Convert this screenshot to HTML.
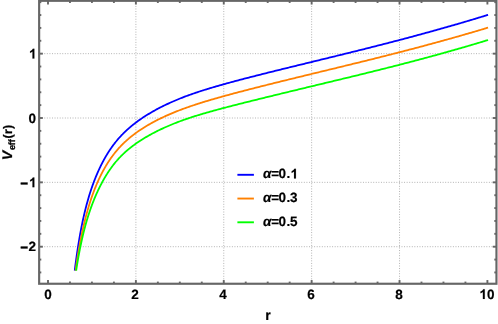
<!DOCTYPE html>
<html><head><meta charset="utf-8"><title>plot</title>
<style>
html,body{margin:0;padding:0;background:#fff;}
body{width:498px;height:324px;position:relative;overflow:hidden;font-family:"Liberation Sans",sans-serif;font-weight:bold;color:#000;}
.t{position:absolute;white-space:nowrap;line-height:1;font-size:13.5px;will-change:transform;text-rendering:geometricPrecision;-webkit-text-stroke:0.2px #000;}
.xt{top:287.5px;width:40px;text-align:center;}
.yt{width:30px;text-align:right;left:6.3px;}
.m{position:relative;top:1.15px;margin-right:0.45px;-webkit-text-stroke:0.3px #000;}
.lg{left:262.9px;letter-spacing:-0.12px;}
.lg span{margin-left:-0.55px;}
.lg .p{margin-left:0.55px;}
.lg .o{margin-left:-0.2px;}
i{font-style:italic;}
.o{color:transparent;-webkit-text-stroke:0 transparent;}
</style></head><body>
<svg width="498" height="324" viewBox="0 0 498 324" style="position:absolute;left:0;top:0">
<rect x="0" y="0" width="498" height="324" fill="#fff"/>
<line x1="135.88" y1="0.8" x2="135.88" y2="283.75" stroke="rgba(105,105,105,0.52)" stroke-width="1" stroke-dasharray="0.95 1.62"/>
<line x1="223.76" y1="0.8" x2="223.76" y2="283.75" stroke="rgba(105,105,105,0.52)" stroke-width="1" stroke-dasharray="0.95 1.62"/>
<line x1="311.64" y1="0.8" x2="311.64" y2="283.75" stroke="rgba(105,105,105,0.52)" stroke-width="1" stroke-dasharray="0.95 1.62"/>
<line x1="399.52" y1="0.8" x2="399.52" y2="283.75" stroke="rgba(105,105,105,0.52)" stroke-width="1" stroke-dasharray="0.95 1.62"/>
<line x1="39.15" y1="246.70" x2="496.45" y2="246.70" stroke="rgba(105,105,105,0.52)" stroke-width="1" stroke-dasharray="0.95 1.62"/>
<line x1="39.15" y1="182.35" x2="496.45" y2="182.35" stroke="rgba(105,105,105,0.52)" stroke-width="1" stroke-dasharray="0.95 1.62"/>
<line x1="39.15" y1="118.00" x2="496.45" y2="118.00" stroke="rgba(105,105,105,0.52)" stroke-width="1" stroke-dasharray="0.95 1.62"/>
<line x1="39.15" y1="53.65" x2="496.45" y2="53.65" stroke="rgba(105,105,105,0.52)" stroke-width="1" stroke-dasharray="0.95 1.62"/>
<polyline points="74.75,270.57 74.94,269.02 75.15,267.31 75.36,265.64 75.58,263.99 75.79,262.37 76.00,260.77 76.22,259.20 76.43,257.65 76.64,256.13 76.85,254.63 77.07,253.16 77.28,251.70 77.49,250.27 77.71,248.86 77.92,247.48 78.13,246.11 78.35,244.76 78.56,243.44 78.77,242.13 78.99,240.84 79.20,239.57 79.41,238.32 79.63,237.09 79.84,235.87 80.05,234.68 80.26,233.50 80.48,232.33 80.69,231.18 80.90,230.05 81.12,228.93 81.33,227.83 81.54,226.75 81.76,225.68 81.97,224.62 82.18,223.58 82.40,222.55 82.61,221.53 82.82,220.53 83.03,219.54 83.25,218.56 83.46,217.60 83.67,216.65 83.89,215.71 84.10,214.78 84.31,213.87 84.53,212.96 84.74,212.07 84.95,211.19 85.17,210.32 85.38,209.46 85.59,208.61 85.80,207.77 86.02,206.94 86.23,206.12 86.44,205.31 86.66,204.51 86.87,203.72 87.08,202.93 87.30,202.16 87.51,201.40 87.72,200.64 87.94,199.89 88.15,199.15 88.36,198.42 88.57,197.70 88.79,196.98 89.00,196.27 89.21,195.57 89.43,194.88 89.64,194.20 89.85,193.52 90.07,192.84 90.28,192.18 90.49,191.52 90.71,190.87 90.92,190.22 91.13,189.58 91.34,188.95 91.56,188.32 91.77,187.70 91.98,187.09 92.20,186.48 92.41,185.87 92.62,185.28 92.84,184.68 93.05,184.09 93.26,183.51 93.48,182.93 93.69,182.36 93.90,181.79 94.11,181.23 94.33,180.68 94.54,180.12 94.75,179.57 94.97,179.03 95.18,178.49 95.39,177.96 95.61,177.43 95.82,176.91 96.03,176.39 96.25,175.87 96.46,175.36 96.67,174.85 96.89,174.35 97.10,173.85 97.31,173.35 97.52,172.86 97.74,172.37 97.95,171.89 98.16,171.41 98.38,170.94 98.59,170.46 98.80,170.00 99.02,169.53 99.23,169.07 99.44,168.61 99.66,168.16 99.87,167.71 100.08,167.26 100.29,166.82 100.51,166.38 100.72,165.95 100.93,165.51 101.15,165.08 101.36,164.66 101.57,164.23 101.79,163.81 102.00,163.40 102.21,162.98 102.43,162.57 102.64,162.16 102.85,161.76 103.06,161.36 103.28,160.96 103.49,160.56 103.70,160.17 103.92,159.78 104.13,159.39 104.34,159.01 104.56,158.63 104.77,158.25 104.98,157.87 105.20,157.50 105.41,157.13 105.62,156.76 105.83,156.39 106.05,156.03 106.26,155.67 106.47,155.31 106.69,154.96 106.90,154.60 107.11,154.25 107.33,153.90 107.54,153.56 107.75,153.21 107.97,152.87 108.18,152.54 108.39,152.20 108.60,151.86 108.82,151.53 109.03,151.20 109.24,150.88 109.46,150.55 109.67,150.23 109.88,149.91 110.10,149.59 110.31,149.27 110.52,148.96 110.74,148.65 110.95,148.34 111.16,148.03 111.38,147.73 111.59,147.42 111.80,147.12 112.01,146.82 112.23,146.52 112.44,146.23 112.65,145.94 112.87,145.64 113.08,145.35 113.29,145.07 113.51,144.78 113.72,144.50 113.93,144.22 114.15,143.94 114.36,143.66 114.57,143.38 114.78,143.11 115.00,142.83 115.21,142.56 115.42,142.30 115.64,142.03 115.85,141.76 116.06,141.50 116.28,141.24 116.49,140.98 116.70,140.72 116.92,140.46 117.13,140.21 117.34,139.95 117.55,139.70 117.77,139.45 117.98,139.20 118.19,138.95 118.41,138.71 118.62,138.46 118.83,138.22 119.05,137.98 119.26,137.74 119.47,137.50 119.69,137.26 119.90,137.03 120.11,136.80 120.32,136.56 120.54,136.33 120.75,136.10 120.96,135.87 121.18,135.65 121.39,135.42 121.60,135.20 121.82,134.97 122.03,134.75 122.24,134.53 122.46,134.31 122.67,134.09 122.88,133.88 123.09,133.66 123.31,133.45 123.52,133.23 123.73,133.02 123.95,132.81 124.16,132.60 124.37,132.39 124.59,132.19 124.80,131.98 125.01,131.78 125.23,131.57 125.44,131.37 125.65,131.17 125.86,130.97 126.08,130.77 126.29,130.57 126.50,130.37 126.72,130.18 126.93,129.98 127.14,129.79 127.36,129.59 127.57,129.40 127.78,129.21 128.00,129.02 128.21,128.83 128.42,128.64 128.64,128.45 128.85,128.27 129.06,128.08 129.27,127.90 129.49,127.71 129.70,127.53 129.91,127.35 130.13,127.17 130.34,126.99 130.55,126.81 130.77,126.63 130.98,126.45 131.19,126.27 131.41,126.10 131.62,125.92 131.83,125.75 132.04,125.58 132.26,125.40 132.47,125.23 132.68,125.06 132.90,124.89 133.11,124.72 133.32,124.55 133.54,124.38 133.75,124.21 133.96,124.05 134.18,123.88 134.39,123.72 134.60,123.55 134.81,123.39 135.03,123.22 135.24,123.06 135.45,122.90 135.67,122.74 135.88,122.58 137.06,121.70 138.24,120.84 139.41,120.00 140.59,119.18 141.77,118.37 142.95,117.58 144.12,116.81 145.30,116.05 146.48,115.31 147.66,114.57 148.84,113.86 150.01,113.15 151.19,112.46 152.37,111.78 153.55,111.11 154.73,110.45 155.90,109.80 157.08,109.16 158.26,108.54 159.44,107.92 160.61,107.31 161.79,106.72 162.97,106.13 164.15,105.55 165.33,104.98 166.50,104.42 167.68,103.86 168.86,103.32 170.04,102.78 171.22,102.25 172.39,101.73 173.57,101.21 174.75,100.71 175.93,100.21 177.10,99.72 178.28,99.23 179.46,98.75 180.64,98.28 181.82,97.82 182.99,97.36 184.17,96.91 185.35,96.46 186.53,96.02 187.71,95.59 188.88,95.16 190.06,94.73 191.24,94.32 192.42,93.90 193.59,93.49 194.77,93.09 195.95,92.69 197.13,92.30 198.31,91.91 199.48,91.52 200.66,91.14 201.84,90.76 203.02,90.38 204.20,90.01 205.37,89.64 206.55,89.28 207.73,88.92 208.91,88.56 210.08,88.20 211.26,87.85 212.44,87.50 213.62,87.15 214.80,86.81 215.97,86.47 217.15,86.12 218.33,85.79 219.51,85.45 220.69,85.12 221.86,84.78 223.04,84.45 224.22,84.12 225.40,83.80 226.57,83.47 227.75,83.15 228.93,82.82 230.11,82.50 231.29,82.18 232.46,81.86 233.64,81.55 234.82,81.23 236.00,80.91 237.18,80.60 238.35,80.29 239.53,79.98 240.71,79.67 241.89,79.36 243.06,79.05 244.24,78.74 245.42,78.43 246.60,78.13 247.78,77.82 248.95,77.52 250.13,77.21 251.31,76.91 252.49,76.61 253.67,76.31 254.84,76.01 256.02,75.71 257.20,75.41 258.38,75.11 259.55,74.81 260.73,74.51 261.91,74.22 263.09,73.92 264.27,73.62 265.44,73.33 266.62,73.03 267.80,72.74 268.98,72.45 270.16,72.15 271.33,71.86 272.51,71.57 273.69,71.27 274.87,70.98 276.04,70.69 277.22,70.40 278.40,70.11 279.58,69.82 280.76,69.53 281.93,69.24 283.11,68.95 284.29,68.66 285.47,68.37 286.65,68.08 287.82,67.79 289.00,67.50 290.18,67.21 291.36,66.92 292.53,66.63 293.71,66.34 294.89,66.06 296.07,65.77 297.25,65.48 298.42,65.19 299.60,64.91 300.78,64.62 301.96,64.33 303.14,64.04 304.31,63.76 305.49,63.47 306.67,63.18 307.85,62.89 309.02,62.61 310.20,62.32 311.38,62.03 312.56,61.75 313.74,61.46 314.91,61.17 316.09,60.89 317.27,60.60 318.45,60.31 319.63,60.03 320.80,59.74 321.98,59.45 323.16,59.17 324.34,58.88 325.51,58.59 326.69,58.31 327.87,58.02 329.05,57.73 330.23,57.44 331.40,57.16 332.58,56.87 333.76,56.58 334.94,56.29 336.12,56.00 337.29,55.72 338.47,55.43 339.65,55.14 340.83,54.85 342.00,54.56 343.18,54.27 344.36,53.98 345.54,53.69 346.72,53.40 347.89,53.11 349.07,52.82 350.25,52.53 351.43,52.24 352.61,51.94 353.78,51.65 354.96,51.36 356.14,51.07 357.32,50.77 358.49,50.48 359.67,50.19 360.85,49.89 362.03,49.60 363.21,49.30 364.38,49.01 365.56,48.71 366.74,48.42 367.92,48.12 369.10,47.82 370.27,47.53 371.45,47.23 372.63,46.93 373.81,46.63 374.98,46.33 376.16,46.03 377.34,45.74 378.52,45.44 379.70,45.13 380.87,44.83 382.05,44.53 383.23,44.23 384.41,43.93 385.59,43.62 386.76,43.32 387.94,43.02 389.12,42.71 390.30,42.41 391.47,42.10 392.65,41.80 393.83,41.49 395.01,41.18 396.19,40.87 397.36,40.57 398.54,40.26 399.72,39.95 400.90,39.64 402.08,39.33 403.25,39.02 404.43,38.70 405.61,38.39 406.79,38.08 407.96,37.77 409.14,37.45 410.32,37.14 411.50,36.82 412.68,36.51 413.85,36.19 415.03,35.87 416.21,35.56 417.39,35.24 418.57,34.92 419.74,34.60 420.92,34.28 422.10,33.96 423.28,33.64 424.45,33.32 425.63,32.99 426.81,32.67 427.99,32.34 429.17,32.02 430.34,31.69 431.52,31.37 432.70,31.04 433.88,30.71 435.06,30.39 436.23,30.06 437.41,29.73 438.59,29.40 439.77,29.07 440.94,28.74 442.12,28.40 443.30,28.07 444.48,27.74 445.66,27.40 446.83,27.07 448.01,26.73 449.19,26.39 450.37,26.06 451.55,25.72 452.72,25.38 453.90,25.04 455.08,24.70 456.26,24.36 457.43,24.02 458.61,23.67 459.79,23.33 460.97,22.99 462.15,22.64 463.32,22.29 464.50,21.95 465.68,21.60 466.86,21.25 468.04,20.90 469.21,20.55 470.39,20.20 471.57,19.85 472.75,19.50 473.92,19.15 475.10,18.79 476.28,18.44 477.46,18.08 478.64,17.73 479.81,17.37 480.99,17.01 482.17,16.65 483.35,16.29 484.53,15.93 485.70,15.57 486.88,15.21 488.06,14.85" fill="none" stroke="#0000ff" stroke-width="1.8" stroke-linejoin="round"/>
<polyline points="75.57,270.57 75.58,270.53 75.79,269.01 76.00,267.52 76.22,266.05 76.43,264.60 76.64,263.17 76.85,261.76 77.07,260.38 77.28,259.01 77.49,257.67 77.71,256.34 77.92,255.03 78.13,253.74 78.35,252.47 78.56,251.21 78.77,249.98 78.99,248.76 79.20,247.55 79.41,246.37 79.63,245.20 79.84,244.04 80.05,242.90 80.26,241.77 80.48,240.66 80.69,239.57 80.90,238.48 81.12,237.41 81.33,236.36 81.54,235.32 81.76,234.29 81.97,233.27 82.18,232.27 82.40,231.28 82.61,230.30 82.82,229.33 83.03,228.37 83.25,227.43 83.46,226.49 83.67,225.57 83.89,224.66 84.10,223.76 84.31,222.87 84.53,221.99 84.74,221.12 84.95,220.25 85.17,219.40 85.38,218.56 85.59,217.73 85.80,216.90 86.02,216.09 86.23,215.28 86.44,214.49 86.66,213.70 86.87,212.92 87.08,212.15 87.30,211.38 87.51,210.63 87.72,209.88 87.94,209.14 88.15,208.41 88.36,207.69 88.57,206.97 88.79,206.26 89.00,205.56 89.21,204.86 89.43,204.17 89.64,203.49 89.85,202.81 90.07,202.15 90.28,201.48 90.49,200.83 90.71,200.18 90.92,199.54 91.13,198.90 91.34,198.27 91.56,197.64 91.77,197.03 91.98,196.41 92.20,195.81 92.41,195.20 92.62,194.61 92.84,194.02 93.05,193.43 93.26,192.85 93.48,192.28 93.69,191.71 93.90,191.15 94.11,190.59 94.33,190.03 94.54,189.48 94.75,188.94 94.97,188.40 95.18,187.86 95.39,187.33 95.61,186.81 95.82,186.29 96.03,185.77 96.25,185.26 96.46,184.75 96.67,184.25 96.89,183.75 97.10,183.25 97.31,182.76 97.52,182.27 97.74,181.79 97.95,181.31 98.16,180.84 98.38,180.37 98.59,179.90 98.80,179.44 99.02,178.98 99.23,178.52 99.44,178.07 99.66,177.62 99.87,177.17 100.08,176.73 100.29,176.29 100.51,175.86 100.72,175.43 100.93,175.00 101.15,174.57 101.36,174.15 101.57,173.73 101.79,173.32 102.00,172.91 102.21,172.50 102.43,172.09 102.64,171.69 102.85,171.29 103.06,170.89 103.28,170.50 103.49,170.11 103.70,169.72 103.92,169.34 104.13,168.96 104.34,168.58 104.56,168.20 104.77,167.83 104.98,167.46 105.20,167.09 105.41,166.72 105.62,166.36 105.83,166.00 106.05,165.64 106.26,165.29 106.47,164.94 106.69,164.59 106.90,164.24 107.11,163.89 107.33,163.55 107.54,163.21 107.75,162.87 107.97,162.54 108.18,162.21 108.39,161.88 108.60,161.55 108.82,161.22 109.03,160.90 109.24,160.58 109.46,160.26 109.67,159.94 109.88,159.63 110.10,159.31 110.31,159.00 110.52,158.70 110.74,158.39 110.95,158.09 111.16,157.78 111.38,157.48 111.59,157.19 111.80,156.89 112.01,156.60 112.23,156.31 112.44,156.02 112.65,155.73 112.87,155.44 113.08,155.16 113.29,154.88 113.51,154.60 113.72,154.32 113.93,154.04 114.15,153.77 114.36,153.50 114.57,153.23 114.78,152.96 115.00,152.69 115.21,152.43 115.42,152.16 115.64,151.90 115.85,151.64 116.06,151.38 116.28,151.13 116.49,150.87 116.70,150.62 116.92,150.37 117.13,150.12 117.34,149.87 117.55,149.62 117.77,149.38 117.98,149.14 118.19,148.89 118.41,148.65 118.62,148.42 118.83,148.18 119.05,147.94 119.26,147.71 119.47,147.48 119.69,147.24 119.90,147.01 120.11,146.79 120.32,146.56 120.54,146.33 120.75,146.11 120.96,145.89 121.18,145.66 121.39,145.44 121.60,145.23 121.82,145.01 122.03,144.79 122.24,144.58 122.46,144.36 122.67,144.15 122.88,143.94 123.09,143.73 123.31,143.52 123.52,143.31 123.73,143.11 123.95,142.90 124.16,142.70 124.37,142.49 124.59,142.29 124.80,142.09 125.01,141.89 125.23,141.69 125.44,141.50 125.65,141.30 125.86,141.10 126.08,140.91 126.29,140.72 126.50,140.53 126.72,140.34 126.93,140.15 127.14,139.96 127.36,139.77 127.57,139.58 127.78,139.40 128.00,139.21 128.21,139.03 128.42,138.84 128.64,138.66 128.85,138.48 129.06,138.30 129.27,138.12 129.49,137.94 129.70,137.77 129.91,137.59 130.13,137.41 130.34,137.24 130.55,137.07 130.77,136.89 130.98,136.72 131.19,136.55 131.41,136.38 131.62,136.21 131.83,136.04 132.04,135.87 132.26,135.71 132.47,135.54 132.68,135.37 132.90,135.21 133.11,135.04 133.32,134.88 133.54,134.72 133.75,134.56 133.96,134.39 134.18,134.23 134.39,134.07 134.60,133.92 134.81,133.76 135.03,133.60 135.24,133.44 135.45,133.29 135.67,133.13 135.88,132.98 137.06,132.13 138.24,131.30 139.41,130.50 140.59,129.71 141.77,128.93 142.95,128.18 144.12,127.43 145.30,126.71 146.48,126.00 147.66,125.30 148.84,124.61 150.01,123.94 151.19,123.28 152.37,122.63 153.55,122.00 154.73,121.37 155.90,120.76 157.08,120.15 158.26,119.56 159.44,118.97 160.61,118.40 161.79,117.83 162.97,117.27 164.15,116.72 165.33,116.18 166.50,115.65 167.68,115.13 168.86,114.61 170.04,114.10 171.22,113.60 172.39,113.10 173.57,112.62 174.75,112.14 175.93,111.66 177.10,111.19 178.28,110.73 179.46,110.28 180.64,109.83 181.82,109.38 182.99,108.94 184.17,108.51 185.35,108.08 186.53,107.66 187.71,107.24 188.88,106.83 190.06,106.42 191.24,106.02 192.42,105.62 193.59,105.23 194.77,104.84 195.95,104.45 197.13,104.07 198.31,103.69 199.48,103.31 200.66,102.94 201.84,102.57 203.02,102.21 204.20,101.84 205.37,101.48 206.55,101.13 207.73,100.77 208.91,100.42 210.08,100.07 211.26,99.73 212.44,99.38 213.62,99.04 214.80,98.70 215.97,98.36 217.15,98.03 218.33,97.69 219.51,97.36 220.69,97.03 221.86,96.70 223.04,96.37 224.22,96.05 225.40,95.72 226.57,95.40 227.75,95.08 228.93,94.76 230.11,94.44 231.29,94.12 232.46,93.81 233.64,93.49 234.82,93.18 236.00,92.86 237.18,92.55 238.35,92.24 239.53,91.93 240.71,91.62 241.89,91.31 243.06,91.01 244.24,90.70 245.42,90.39 246.60,90.09 247.78,89.79 248.95,89.48 250.13,89.18 251.31,88.88 252.49,88.58 253.67,88.27 254.84,87.97 256.02,87.67 257.20,87.38 258.38,87.08 259.55,86.78 260.73,86.48 261.91,86.19 263.09,85.89 264.27,85.59 265.44,85.30 266.62,85.00 267.80,84.71 268.98,84.41 270.16,84.12 271.33,83.83 272.51,83.53 273.69,83.24 274.87,82.95 276.04,82.66 277.22,82.36 278.40,82.07 279.58,81.78 280.76,81.49 281.93,81.20 283.11,80.91 284.29,80.62 285.47,80.33 286.65,80.04 287.82,79.75 289.00,79.46 290.18,79.17 291.36,78.88 292.53,78.59 293.71,78.31 294.89,78.02 296.07,77.73 297.25,77.44 298.42,77.15 299.60,76.87 300.78,76.58 301.96,76.29 303.14,76.01 304.31,75.72 305.49,75.43 306.67,75.15 307.85,74.86 309.02,74.57 310.20,74.29 311.38,74.00 312.56,73.71 313.74,73.43 314.91,73.14 316.09,72.86 317.27,72.57 318.45,72.29 319.63,72.00 320.80,71.72 321.98,71.43 323.16,71.15 324.34,70.86 325.51,70.58 326.69,70.29 327.87,70.00 329.05,69.72 330.23,69.43 331.40,69.15 332.58,68.86 333.76,68.58 334.94,68.29 336.12,68.01 337.29,67.72 338.47,67.43 339.65,67.15 340.83,66.86 342.00,66.58 343.18,66.29 344.36,66.00 345.54,65.72 346.72,65.43 347.89,65.14 349.07,64.85 350.25,64.57 351.43,64.28 352.61,63.99 353.78,63.70 354.96,63.41 356.14,63.12 357.32,62.84 358.49,62.55 359.67,62.26 360.85,61.97 362.03,61.68 363.21,61.39 364.38,61.09 365.56,60.80 366.74,60.51 367.92,60.22 369.10,59.93 370.27,59.64 371.45,59.34 372.63,59.05 373.81,58.76 374.98,58.46 376.16,58.17 377.34,57.87 378.52,57.58 379.70,57.28 380.87,56.99 382.05,56.69 383.23,56.39 384.41,56.09 385.59,55.80 386.76,55.50 387.94,55.20 389.12,54.90 390.30,54.60 391.47,54.30 392.65,54.00 393.83,53.70 395.01,53.40 396.19,53.10 397.36,52.80 398.54,52.49 399.72,52.19 400.90,51.88 402.08,51.58 403.25,51.28 404.43,50.97 405.61,50.66 406.79,50.36 407.96,50.05 409.14,49.74 410.32,49.43 411.50,49.13 412.68,48.82 413.85,48.51 415.03,48.20 416.21,47.88 417.39,47.57 418.57,47.26 419.74,46.95 420.92,46.63 422.10,46.32 423.28,46.01 424.45,45.69 425.63,45.37 426.81,45.06 427.99,44.74 429.17,44.42 430.34,44.11 431.52,43.79 432.70,43.47 433.88,43.15 435.06,42.82 436.23,42.50 437.41,42.18 438.59,41.86 439.77,41.53 440.94,41.21 442.12,40.88 443.30,40.56 444.48,40.23 445.66,39.91 446.83,39.58 448.01,39.25 449.19,38.92 450.37,38.59 451.55,38.26 452.72,37.93 453.90,37.60 455.08,37.26 456.26,36.93 457.43,36.59 458.61,36.26 459.79,35.92 460.97,35.59 462.15,35.25 463.32,34.91 464.50,34.57 465.68,34.23 466.86,33.89 468.04,33.55 469.21,33.21 470.39,32.87 471.57,32.52 472.75,32.18 473.92,31.83 475.10,31.49 476.28,31.14 477.46,30.79 478.64,30.45 479.81,30.10 480.99,29.75 482.17,29.40 483.35,29.04 484.53,28.69 485.70,28.34 486.88,27.98 488.06,27.63" fill="none" stroke="#ff8000" stroke-width="1.8" stroke-linejoin="round"/>
<polyline points="76.17,270.57 76.22,270.26 76.43,268.88 76.64,267.53 76.85,266.19 77.07,264.88 77.28,263.58 77.49,262.31 77.71,261.05 77.92,259.81 78.13,258.59 78.35,257.39 78.56,256.20 78.77,255.04 78.99,253.88 79.20,252.75 79.41,251.63 79.63,250.53 79.84,249.44 80.05,248.37 80.26,247.31 80.48,246.26 80.69,245.23 80.90,244.22 81.12,243.21 81.33,242.22 81.54,241.25 81.76,240.28 81.97,239.33 82.18,238.39 82.40,237.46 82.61,236.54 82.82,235.64 83.03,234.74 83.25,233.86 83.46,232.99 83.67,232.13 83.89,231.27 84.10,230.43 84.31,229.60 84.53,228.78 84.74,227.97 84.95,227.16 85.17,226.37 85.38,225.59 85.59,224.81 85.80,224.04 86.02,223.28 86.23,222.53 86.44,221.79 86.66,221.06 86.87,220.33 87.08,219.61 87.30,218.90 87.51,218.20 87.72,217.50 87.94,216.81 88.15,216.13 88.36,215.46 88.57,214.79 88.79,214.13 89.00,213.47 89.21,212.82 89.43,212.18 89.64,211.55 89.85,210.92 90.07,210.29 90.28,209.68 90.49,209.06 90.71,208.46 90.92,207.86 91.13,207.26 91.34,206.67 91.56,206.09 91.77,205.51 91.98,204.93 92.20,204.37 92.41,203.80 92.62,203.24 92.84,202.69 93.05,202.14 93.26,201.59 93.48,201.05 93.69,200.52 93.90,199.99 94.11,199.46 94.33,198.94 94.54,198.42 94.75,197.90 94.97,197.39 95.18,196.89 95.39,196.39 95.61,195.89 95.82,195.39 96.03,194.90 96.25,194.42 96.46,193.94 96.67,193.46 96.89,192.98 97.10,192.51 97.31,192.04 97.52,191.58 97.74,191.12 97.95,190.66 98.16,190.21 98.38,189.76 98.59,189.31 98.80,188.87 99.02,188.43 99.23,187.99 99.44,187.56 99.66,187.13 99.87,186.70 100.08,186.27 100.29,185.85 100.51,185.43 100.72,185.02 100.93,184.61 101.15,184.20 101.36,183.79 101.57,183.39 101.79,182.99 102.00,182.59 102.21,182.19 102.43,181.80 102.64,181.41 102.85,181.02 103.06,180.64 103.28,180.26 103.49,179.88 103.70,179.50 103.92,179.13 104.13,178.76 104.34,178.39 104.56,178.02 104.77,177.66 104.98,177.30 105.20,176.94 105.41,176.58 105.62,176.23 105.83,175.87 106.05,175.52 106.26,175.18 106.47,174.83 106.69,174.49 106.90,174.15 107.11,173.81 107.33,173.48 107.54,173.14 107.75,172.81 107.97,172.48 108.18,172.16 108.39,171.83 108.60,171.51 108.82,171.19 109.03,170.87 109.24,170.56 109.46,170.24 109.67,169.93 109.88,169.62 110.10,169.32 110.31,169.01 110.52,168.71 110.74,168.41 110.95,168.11 111.16,167.81 111.38,167.52 111.59,167.22 111.80,166.93 112.01,166.64 112.23,166.36 112.44,166.07 112.65,165.79 112.87,165.51 113.08,165.23 113.29,164.95 113.51,164.68 113.72,164.40 113.93,164.13 114.15,163.86 114.36,163.60 114.57,163.33 114.78,163.07 115.00,162.80 115.21,162.54 115.42,162.29 115.64,162.03 115.85,161.78 116.06,161.52 116.28,161.27 116.49,161.02 116.70,160.77 116.92,160.53 117.13,160.28 117.34,160.04 117.55,159.80 117.77,159.56 117.98,159.32 118.19,159.09 118.41,158.85 118.62,158.62 118.83,158.39 119.05,158.16 119.26,157.93 119.47,157.70 119.69,157.48 119.90,157.25 120.11,157.03 120.32,156.81 120.54,156.59 120.75,156.37 120.96,156.15 121.18,155.94 121.39,155.72 121.60,155.51 121.82,155.30 122.03,155.09 122.24,154.88 122.46,154.67 122.67,154.46 122.88,154.26 123.09,154.05 123.31,153.85 123.52,153.65 123.73,153.45 123.95,153.25 124.16,153.05 124.37,152.86 124.59,152.66 124.80,152.46 125.01,152.27 125.23,152.08 125.44,151.89 125.65,151.70 125.86,151.51 126.08,151.32 126.29,151.13 126.50,150.95 126.72,150.76 126.93,150.58 127.14,150.40 127.36,150.21 127.57,150.03 127.78,149.85 128.00,149.67 128.21,149.50 128.42,149.32 128.64,149.14 128.85,148.97 129.06,148.79 129.27,148.62 129.49,148.45 129.70,148.28 129.91,148.11 130.13,147.94 130.34,147.77 130.55,147.60 130.77,147.43 130.98,147.27 131.19,147.10 131.41,146.94 131.62,146.77 131.83,146.61 132.04,146.45 132.26,146.28 132.47,146.12 132.68,145.96 132.90,145.80 133.11,145.65 133.32,145.49 133.54,145.33 133.75,145.17 133.96,145.02 134.18,144.86 134.39,144.71 134.60,144.55 134.81,144.40 135.03,144.25 135.24,144.10 135.45,143.94 135.67,143.79 135.88,143.64 137.06,142.83 138.24,142.03 139.41,141.24 140.59,140.47 141.77,139.72 142.95,138.99 144.12,138.27 145.30,137.56 146.48,136.86 147.66,136.18 148.84,135.51 150.01,134.86 151.19,134.21 152.37,133.58 153.55,132.95 154.73,132.34 155.90,131.74 157.08,131.15 158.26,130.56 159.44,129.99 160.61,129.42 161.79,128.87 162.97,128.32 164.15,127.78 165.33,127.25 166.50,126.73 167.68,126.22 168.86,125.71 170.04,125.21 171.22,124.72 172.39,124.23 173.57,123.75 174.75,123.28 175.93,122.82 177.10,122.36 178.28,121.91 179.46,121.47 180.64,121.03 181.82,120.60 182.99,120.17 184.17,119.76 185.35,119.34 186.53,118.94 187.71,118.53 188.88,118.14 190.06,117.74 191.24,117.36 192.42,116.98 193.59,116.60 194.77,116.22 195.95,115.85 197.13,115.49 198.31,115.13 199.48,114.77 200.66,114.41 201.84,114.06 203.02,113.71 204.20,113.37 205.37,113.03 206.55,112.69 207.73,112.35 208.91,112.02 210.08,111.69 211.26,111.36 212.44,111.03 213.62,110.71 214.80,110.39 215.97,110.07 217.15,109.75 218.33,109.43 219.51,109.12 220.69,108.80 221.86,108.49 223.04,108.18 224.22,107.87 225.40,107.56 226.57,107.25 227.75,106.95 228.93,106.64 230.11,106.33 231.29,106.03 232.46,105.73 233.64,105.43 234.82,105.12 236.00,104.82 237.18,104.52 238.35,104.22 239.53,103.93 240.71,103.63 241.89,103.33 243.06,103.03 244.24,102.74 245.42,102.44 246.60,102.15 247.78,101.85 248.95,101.56 250.13,101.27 251.31,100.97 252.49,100.68 253.67,100.39 254.84,100.10 256.02,99.81 257.20,99.52 258.38,99.22 259.55,98.93 260.73,98.64 261.91,98.35 263.09,98.07 264.27,97.78 265.44,97.49 266.62,97.20 267.80,96.91 268.98,96.62 270.16,96.33 271.33,96.05 272.51,95.76 273.69,95.47 274.87,95.18 276.04,94.90 277.22,94.61 278.40,94.32 279.58,94.04 280.76,93.75 281.93,93.47 283.11,93.18 284.29,92.89 285.47,92.61 286.65,92.32 287.82,92.04 289.00,91.75 290.18,91.47 291.36,91.18 292.53,90.90 293.71,90.61 294.89,90.33 296.07,90.04 297.25,89.76 298.42,89.47 299.60,89.19 300.78,88.91 301.96,88.62 303.14,88.34 304.31,88.05 305.49,87.77 306.67,87.49 307.85,87.20 309.02,86.92 310.20,86.64 311.38,86.35 312.56,86.07 313.74,85.79 314.91,85.51 316.09,85.22 317.27,84.94 318.45,84.66 319.63,84.38 320.80,84.09 321.98,83.81 323.16,83.53 324.34,83.25 325.51,82.96 326.69,82.68 327.87,82.40 329.05,82.12 330.23,81.83 331.40,81.55 332.58,81.27 333.76,80.99 334.94,80.70 336.12,80.42 337.29,80.14 338.47,79.85 339.65,79.57 340.83,79.29 342.00,79.00 343.18,78.72 344.36,78.43 345.54,78.15 346.72,77.87 347.89,77.58 349.07,77.30 350.25,77.01 351.43,76.73 352.61,76.44 353.78,76.15 354.96,75.87 356.14,75.58 357.32,75.29 358.49,75.01 359.67,74.72 360.85,74.43 362.03,74.14 363.21,73.85 364.38,73.57 365.56,73.28 366.74,72.99 367.92,72.70 369.10,72.41 370.27,72.12 371.45,71.83 372.63,71.53 373.81,71.24 374.98,70.95 376.16,70.66 377.34,70.36 378.52,70.07 379.70,69.78 380.87,69.48 382.05,69.19 383.23,68.89 384.41,68.60 385.59,68.30 386.76,68.00 387.94,67.71 389.12,67.41 390.30,67.11 391.47,66.81 392.65,66.51 393.83,66.21 395.01,65.91 396.19,65.61 397.36,65.31 398.54,65.01 399.72,64.70 400.90,64.40 402.08,64.10 403.25,63.79 404.43,63.49 405.61,63.18 406.79,62.87 407.96,62.57 409.14,62.26 410.32,61.95 411.50,61.64 412.68,61.33 413.85,61.03 415.03,60.71 416.21,60.40 417.39,60.09 418.57,59.78 419.74,59.47 420.92,59.15 422.10,58.84 423.28,58.52 424.45,58.21 425.63,57.89 426.81,57.57 427.99,57.25 429.17,56.94 430.34,56.62 431.52,56.30 432.70,55.98 433.88,55.65 435.06,55.33 436.23,55.01 437.41,54.69 438.59,54.36 439.77,54.04 440.94,53.71 442.12,53.38 443.30,53.06 444.48,52.73 445.66,52.40 446.83,52.07 448.01,51.74 449.19,51.41 450.37,51.07 451.55,50.74 452.72,50.41 453.90,50.07 455.08,49.74 456.26,49.40 457.43,49.06 458.61,48.72 459.79,48.39 460.97,48.05 462.15,47.71 463.32,47.36 464.50,47.02 465.68,46.68 466.86,46.34 468.04,45.99 469.21,45.64 470.39,45.30 471.57,44.95 472.75,44.60 473.92,44.25 475.10,43.90 476.28,43.55 477.46,43.20 478.64,42.85 479.81,42.49 480.99,42.14 482.17,41.78 483.35,41.43 484.53,41.07 485.70,40.71 486.88,40.35 488.06,39.99" fill="none" stroke="#00ff00" stroke-width="1.8" stroke-linejoin="round"/>
<line x1="48.00" y1="283.75" x2="48.00" y2="280.05" stroke="#666666" stroke-width="1.9"/>
<line x1="48.00" y1="0.80" x2="48.00" y2="4.50" stroke="#666666" stroke-width="1.9"/>
<line x1="69.97" y1="283.75" x2="69.97" y2="281.60" stroke="#666666" stroke-width="1.9"/>
<line x1="69.97" y1="0.80" x2="69.97" y2="2.95" stroke="#666666" stroke-width="1.9"/>
<line x1="91.94" y1="283.75" x2="91.94" y2="281.60" stroke="#666666" stroke-width="1.9"/>
<line x1="91.94" y1="0.80" x2="91.94" y2="2.95" stroke="#666666" stroke-width="1.9"/>
<line x1="113.91" y1="283.75" x2="113.91" y2="281.60" stroke="#666666" stroke-width="1.9"/>
<line x1="113.91" y1="0.80" x2="113.91" y2="2.95" stroke="#666666" stroke-width="1.9"/>
<line x1="135.88" y1="283.75" x2="135.88" y2="280.05" stroke="#666666" stroke-width="1.9"/>
<line x1="135.88" y1="0.80" x2="135.88" y2="4.50" stroke="#666666" stroke-width="1.9"/>
<line x1="157.85" y1="283.75" x2="157.85" y2="281.60" stroke="#666666" stroke-width="1.9"/>
<line x1="157.85" y1="0.80" x2="157.85" y2="2.95" stroke="#666666" stroke-width="1.9"/>
<line x1="179.82" y1="283.75" x2="179.82" y2="281.60" stroke="#666666" stroke-width="1.9"/>
<line x1="179.82" y1="0.80" x2="179.82" y2="2.95" stroke="#666666" stroke-width="1.9"/>
<line x1="201.79" y1="283.75" x2="201.79" y2="281.60" stroke="#666666" stroke-width="1.9"/>
<line x1="201.79" y1="0.80" x2="201.79" y2="2.95" stroke="#666666" stroke-width="1.9"/>
<line x1="223.76" y1="283.75" x2="223.76" y2="280.05" stroke="#666666" stroke-width="1.9"/>
<line x1="223.76" y1="0.80" x2="223.76" y2="4.50" stroke="#666666" stroke-width="1.9"/>
<line x1="245.73" y1="283.75" x2="245.73" y2="281.60" stroke="#666666" stroke-width="1.9"/>
<line x1="245.73" y1="0.80" x2="245.73" y2="2.95" stroke="#666666" stroke-width="1.9"/>
<line x1="267.70" y1="283.75" x2="267.70" y2="281.60" stroke="#666666" stroke-width="1.9"/>
<line x1="267.70" y1="0.80" x2="267.70" y2="2.95" stroke="#666666" stroke-width="1.9"/>
<line x1="289.67" y1="283.75" x2="289.67" y2="281.60" stroke="#666666" stroke-width="1.9"/>
<line x1="289.67" y1="0.80" x2="289.67" y2="2.95" stroke="#666666" stroke-width="1.9"/>
<line x1="311.64" y1="283.75" x2="311.64" y2="280.05" stroke="#666666" stroke-width="1.9"/>
<line x1="311.64" y1="0.80" x2="311.64" y2="4.50" stroke="#666666" stroke-width="1.9"/>
<line x1="333.61" y1="283.75" x2="333.61" y2="281.60" stroke="#666666" stroke-width="1.9"/>
<line x1="333.61" y1="0.80" x2="333.61" y2="2.95" stroke="#666666" stroke-width="1.9"/>
<line x1="355.58" y1="283.75" x2="355.58" y2="281.60" stroke="#666666" stroke-width="1.9"/>
<line x1="355.58" y1="0.80" x2="355.58" y2="2.95" stroke="#666666" stroke-width="1.9"/>
<line x1="377.55" y1="283.75" x2="377.55" y2="281.60" stroke="#666666" stroke-width="1.9"/>
<line x1="377.55" y1="0.80" x2="377.55" y2="2.95" stroke="#666666" stroke-width="1.9"/>
<line x1="399.52" y1="283.75" x2="399.52" y2="280.05" stroke="#666666" stroke-width="1.9"/>
<line x1="399.52" y1="0.80" x2="399.52" y2="4.50" stroke="#666666" stroke-width="1.9"/>
<line x1="421.49" y1="283.75" x2="421.49" y2="281.60" stroke="#666666" stroke-width="1.9"/>
<line x1="421.49" y1="0.80" x2="421.49" y2="2.95" stroke="#666666" stroke-width="1.9"/>
<line x1="443.46" y1="283.75" x2="443.46" y2="281.60" stroke="#666666" stroke-width="1.9"/>
<line x1="443.46" y1="0.80" x2="443.46" y2="2.95" stroke="#666666" stroke-width="1.9"/>
<line x1="465.43" y1="283.75" x2="465.43" y2="281.60" stroke="#666666" stroke-width="1.9"/>
<line x1="465.43" y1="0.80" x2="465.43" y2="2.95" stroke="#666666" stroke-width="1.9"/>
<line x1="487.40" y1="283.75" x2="487.40" y2="280.05" stroke="#666666" stroke-width="1.9"/>
<line x1="487.40" y1="0.80" x2="487.40" y2="4.50" stroke="#666666" stroke-width="1.9"/>
<line x1="39.15" y1="272.44" x2="41.30" y2="272.44" stroke="#666666" stroke-width="1.9"/>
<line x1="496.45" y1="272.44" x2="494.30" y2="272.44" stroke="#666666" stroke-width="1.9"/>
<line x1="39.15" y1="259.57" x2="41.30" y2="259.57" stroke="#666666" stroke-width="1.9"/>
<line x1="496.45" y1="259.57" x2="494.30" y2="259.57" stroke="#666666" stroke-width="1.9"/>
<line x1="39.15" y1="246.70" x2="42.85" y2="246.70" stroke="#666666" stroke-width="1.9"/>
<line x1="496.45" y1="246.70" x2="492.75" y2="246.70" stroke="#666666" stroke-width="1.9"/>
<line x1="39.15" y1="233.83" x2="41.30" y2="233.83" stroke="#666666" stroke-width="1.9"/>
<line x1="496.45" y1="233.83" x2="494.30" y2="233.83" stroke="#666666" stroke-width="1.9"/>
<line x1="39.15" y1="220.96" x2="41.30" y2="220.96" stroke="#666666" stroke-width="1.9"/>
<line x1="496.45" y1="220.96" x2="494.30" y2="220.96" stroke="#666666" stroke-width="1.9"/>
<line x1="39.15" y1="208.09" x2="41.30" y2="208.09" stroke="#666666" stroke-width="1.9"/>
<line x1="496.45" y1="208.09" x2="494.30" y2="208.09" stroke="#666666" stroke-width="1.9"/>
<line x1="39.15" y1="195.22" x2="41.30" y2="195.22" stroke="#666666" stroke-width="1.9"/>
<line x1="496.45" y1="195.22" x2="494.30" y2="195.22" stroke="#666666" stroke-width="1.9"/>
<line x1="39.15" y1="182.35" x2="42.85" y2="182.35" stroke="#666666" stroke-width="1.9"/>
<line x1="496.45" y1="182.35" x2="492.75" y2="182.35" stroke="#666666" stroke-width="1.9"/>
<line x1="39.15" y1="169.48" x2="41.30" y2="169.48" stroke="#666666" stroke-width="1.9"/>
<line x1="496.45" y1="169.48" x2="494.30" y2="169.48" stroke="#666666" stroke-width="1.9"/>
<line x1="39.15" y1="156.61" x2="41.30" y2="156.61" stroke="#666666" stroke-width="1.9"/>
<line x1="496.45" y1="156.61" x2="494.30" y2="156.61" stroke="#666666" stroke-width="1.9"/>
<line x1="39.15" y1="143.74" x2="41.30" y2="143.74" stroke="#666666" stroke-width="1.9"/>
<line x1="496.45" y1="143.74" x2="494.30" y2="143.74" stroke="#666666" stroke-width="1.9"/>
<line x1="39.15" y1="130.87" x2="41.30" y2="130.87" stroke="#666666" stroke-width="1.9"/>
<line x1="496.45" y1="130.87" x2="494.30" y2="130.87" stroke="#666666" stroke-width="1.9"/>
<line x1="39.15" y1="118.00" x2="42.85" y2="118.00" stroke="#666666" stroke-width="1.9"/>
<line x1="496.45" y1="118.00" x2="492.75" y2="118.00" stroke="#666666" stroke-width="1.9"/>
<line x1="39.15" y1="105.13" x2="41.30" y2="105.13" stroke="#666666" stroke-width="1.9"/>
<line x1="496.45" y1="105.13" x2="494.30" y2="105.13" stroke="#666666" stroke-width="1.9"/>
<line x1="39.15" y1="92.26" x2="41.30" y2="92.26" stroke="#666666" stroke-width="1.9"/>
<line x1="496.45" y1="92.26" x2="494.30" y2="92.26" stroke="#666666" stroke-width="1.9"/>
<line x1="39.15" y1="79.39" x2="41.30" y2="79.39" stroke="#666666" stroke-width="1.9"/>
<line x1="496.45" y1="79.39" x2="494.30" y2="79.39" stroke="#666666" stroke-width="1.9"/>
<line x1="39.15" y1="66.52" x2="41.30" y2="66.52" stroke="#666666" stroke-width="1.9"/>
<line x1="496.45" y1="66.52" x2="494.30" y2="66.52" stroke="#666666" stroke-width="1.9"/>
<line x1="39.15" y1="53.65" x2="42.85" y2="53.65" stroke="#666666" stroke-width="1.9"/>
<line x1="496.45" y1="53.65" x2="492.75" y2="53.65" stroke="#666666" stroke-width="1.9"/>
<line x1="39.15" y1="40.78" x2="41.30" y2="40.78" stroke="#666666" stroke-width="1.9"/>
<line x1="496.45" y1="40.78" x2="494.30" y2="40.78" stroke="#666666" stroke-width="1.9"/>
<line x1="39.15" y1="27.91" x2="41.30" y2="27.91" stroke="#666666" stroke-width="1.9"/>
<line x1="496.45" y1="27.91" x2="494.30" y2="27.91" stroke="#666666" stroke-width="1.9"/>
<line x1="39.15" y1="15.04" x2="41.30" y2="15.04" stroke="#666666" stroke-width="1.9"/>
<line x1="496.45" y1="15.04" x2="494.30" y2="15.04" stroke="#666666" stroke-width="1.9"/>
<line x1="39.15" y1="2.17" x2="41.30" y2="2.17" stroke="#666666" stroke-width="1.9"/>
<line x1="496.45" y1="2.17" x2="494.30" y2="2.17" stroke="#666666" stroke-width="1.9"/>
<rect x="39.15" y="0.8" width="457.3" height="282.95" fill="none" stroke="#666666" stroke-width="2.15"/>
<line x1="237.4" y1="174.80" x2="253.9" y2="174.80" stroke="#0000ff" stroke-width="1.9"/>
<line x1="237.4" y1="198.55" x2="253.9" y2="198.55" stroke="#ff8000" stroke-width="1.9"/>
<line x1="237.4" y1="222.30" x2="253.9" y2="222.30" stroke="#00ff00" stroke-width="1.9"/>
<path transform="translate(29.05,58.50) scale(0.01350,-0.01350)" d="M393 0H255V519Q180 448 78 414V539Q132 556 195 605T281 719H393Z" fill="#000" stroke="#000" stroke-width="10"/>
<path transform="translate(29.05,187.20) scale(0.01350,-0.01350)" d="M393 0H255V519Q180 448 78 414V539Q132 556 195 605T281 719H393Z" fill="#000" stroke="#000" stroke-width="10"/>
<path transform="translate(479.45,298.90) scale(0.01350,-0.01350)" d="M393 0H255V519Q180 448 78 414V539Q132 556 195 605T281 719H393Z" fill="#000" stroke="#000" stroke-width="10"/>
<path transform="translate(290.60,178.50) scale(0.01350,-0.01350)" d="M393 0H255V519Q180 448 78 414V539Q132 556 195 605T281 719H393Z" fill="#000" stroke="#000" stroke-width="10"/>
</svg>
<div class="t xt" style="left:27.60px">0</div>
<div class="t xt" style="left:115.48px">2</div>
<div class="t xt" style="left:203.36px">4</div>
<div class="t xt" style="left:291.24px">6</div>
<div class="t xt" style="left:379.12px">8</div>
<div class="t xt" style="left:467.00px"><span class="o">1</span>0</div>
<div class="t yt" style="top:240.30px"><span class="m">−</span>2</div>
<div class="t yt" style="top:175.95px"><span class="m">−</span><span class="o">1</span></div>
<div class="t yt" style="top:111.60px">0</div>
<div class="t yt" style="top:47.25px"><span class="o">1</span></div>
<div class="t lg" style="top:167.45px"><i>α</i>=<span>0<span class="p">.</span><span class="o">1</span></span></div>
<div class="t lg" style="top:191.20px"><i>α</i>=<span>0<span class="p">.</span>3</span></div>
<div class="t lg" style="top:214.95px"><i>α</i>=<span>0<span class="p">.</span>5</span></div>
<div class="t" style="left:248px;width:40px;text-align:center;top:307.6px;font-size:14px;">r</div>
<svg width="30" height="80" viewBox="0 0 30 80" style="position:absolute;left:0;top:100px;will-change:transform" font-family="Liberation Sans" font-weight="bold" text-rendering="geometricPrecision" stroke="#000" stroke-width="0.2">
<g transform="translate(0,58.8) rotate(-90)">
<text transform="translate(-1.53,12.4) scale(1.02,1)" font-size="13.9" font-style="italic" stroke-width="0.25">V</text>
<text x="8.7" y="15.0" font-size="9.2" letter-spacing="-0.2" stroke-width="0.3">eff</text>
<text x="20.4" y="12.15" font-size="12.4" letter-spacing="0.25" stroke-width="0.25">(r)</text>
</g></svg>
</body></html>
